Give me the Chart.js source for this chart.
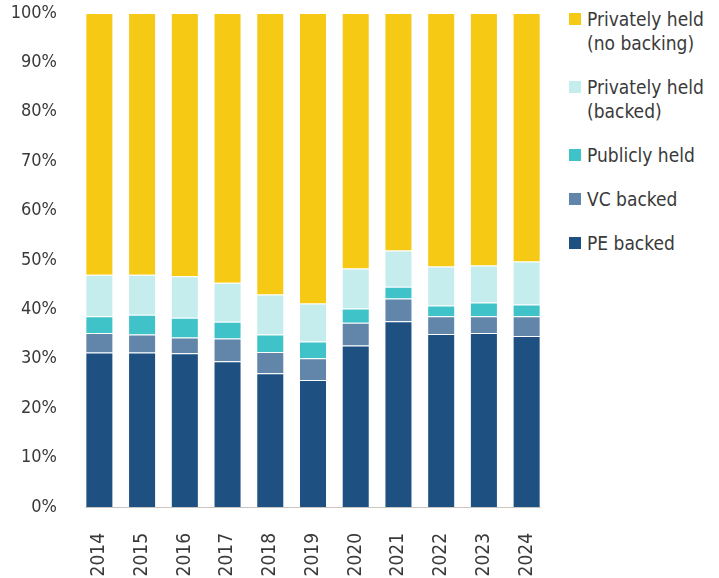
<!DOCTYPE html>
<html>
<head>
<meta charset="utf-8">
<script src="https://cdn.jsdelivr.net/npm/chart.js@4.4.1/dist/chart.umd.min.js"></script>
<style>
    body { margin: 0; background: #fff; }
    #wrap { position: relative; width: 719px; height: 578px; }
    #chartBox { position: absolute; left: 0; top: 0; width: 552px; height: 578px; }
    #legend { position: absolute; left: 569px; top: 7px; font-family: "DejaVu Sans Condensed", sans-serif; font-size: 19px; color: #3a3a3a; }
    .item { position: relative; padding-left: 18px; line-height: 24px; margin-bottom: 20px; }
    .swatch { position: absolute; left: 0; top: 6px; width: 12px; height: 12px; }
</style>
</head>
<body>
<div id="wrap">
    <div id="chartBox"><canvas id="ownerChart"></canvas></div>
    <div id="legend"></div>
</div>
<script>
    const years = ["2014", "2015", "2016", "2017", "2018", "2019", "2020", "2021", "2022", "2023", "2024"];
    const yTicks = [0, 10, 20, 30, 40, 50, 60, 70, 80, 90, 100];

    // shares in %, bottom of the stack first
    const peBacked      = [31.3, 31.3, 31.1, 29.5, 27.1, 25.7, 32.7, 37.6, 35.0, 35.2, 34.6];
    const vcBacked      = [3.9, 3.6, 3.2, 4.6, 4.3, 4.4, 4.6, 4.6, 3.6, 3.4, 4.0];
    const publiclyHeld  = [3.4, 4.0, 4.0, 3.4, 3.5, 3.4, 2.9, 2.4, 2.2, 2.8, 2.4];
    const privBacked    = [8.4, 8.1, 8.4, 7.9, 8.1, 7.7, 8.1, 7.3, 7.9, 7.5, 8.7];
    const privNoBacking = [53.0, 53.0, 53.3, 54.6, 57.0, 58.8, 51.7, 48.1, 51.3, 51.1, 50.3];

    const seriesNames = [["PE backed"], ["VC backed"], ["Publicly held"], ["Privately held", "(backed)"], ["Privately held", "(no backing)"]];
    const seriesData = [peBacked, vcBacked, publiclyHeld, privBacked, privNoBacking];
    const seriesColors = ["#1f5082", "#6286aa", "#3fc3c9", "#c6eded", "#f6c915"];

    const FONT = "'DejaVu Sans Condensed', sans-serif";

    let datasets = seriesData.map((values, i) => ({
        label: seriesNames[i].join(" "),
        data: values,
        backgroundColor: seriesColors[i],
        borderColor: "rgba(255,255,255,0.35)",
        borderWidth: 1,
        barPercentage: 0.656,
        categoryPercentage: 1.0
    }));

    // baseline only under the bars, from first bar's left edge to last bar's right edge
    const baseline = {
        id: "baseline",
        beforeDatasetsDraw(chart) {
            const bars = chart.getDatasetMeta(0).data;
            if (!bars.length) return;
            const first = bars[0], last = bars[bars.length - 1];
            const y = chart.scales.y.getPixelForValue(0) + 0.5;
            const c = chart.ctx;
            c.save();
            c.strokeStyle = "#c9c5c1";
            c.lineWidth = 1;
            c.beginPath();
            c.moveTo(first.x - first.width / 2, y);
            c.lineTo(last.x + last.width / 2, y);
            c.stroke();
            c.restore();
        }
    };

    let ctx = document.getElementById("ownerChart").getContext("2d");
    let ownerChart = new Chart(ctx, {
        type: "bar",
        data: { labels: years, datasets: datasets },
        plugins: [baseline],
        options: {
            responsive: true,
            maintainAspectRatio: false,
            animation: false,
            layout: { padding: { top: 13, right: 4, left: 0, bottom: 0 } },
            plugins: {
                legend: { display: false },
                tooltip: { enabled: false }
            },
            scales: {
                x: {
                    stacked: true,
                    grid: { display: false, drawTicks: false },
                    border: { display: false },
                    afterFit: axis => {
                        axis.height = 71;
                        axis.paddingLeft = 0;
                        axis.paddingRight = 0;
                    },
                    ticks: {
                        color: "#3a3a3a",
                        font: { family: FONT, size: 19 },
                        minRotation: 90,
                        maxRotation: 90,
                        padding: 26
                    }
                },
                y: {
                    stacked: true,
                    min: 0,
                    max: 100,
                    afterBuildTicks: axis => { axis.ticks = yTicks.map(v => ({ value: v })); },
                    afterFit: axis => {
                        axis.width = 78;
                        axis.paddingTop = 0;
                        axis.paddingBottom = 0;
                    },
                    grid: { display: false, drawTicks: false },
                    border: { display: false },
                    ticks: {
                        color: "#3a3a3a",
                        font: { family: FONT, size: 18 },
                        padding: 21,
                        callback: v => v + "%"
                    }
                }
            }
        }
    });

    // legend, top entry = top of the stack
    const legend = document.getElementById("legend");
    for (let i = seriesNames.length - 1; i >= 0; i--) {
        const item = document.createElement("div");
        item.className = "item";
        item.innerHTML = '<span class="swatch" style="background:' + seriesColors[i] + '"></span>' + seriesNames[i].join("<br>");
        legend.appendChild(item);
    }
</script>
</body>
</html>
